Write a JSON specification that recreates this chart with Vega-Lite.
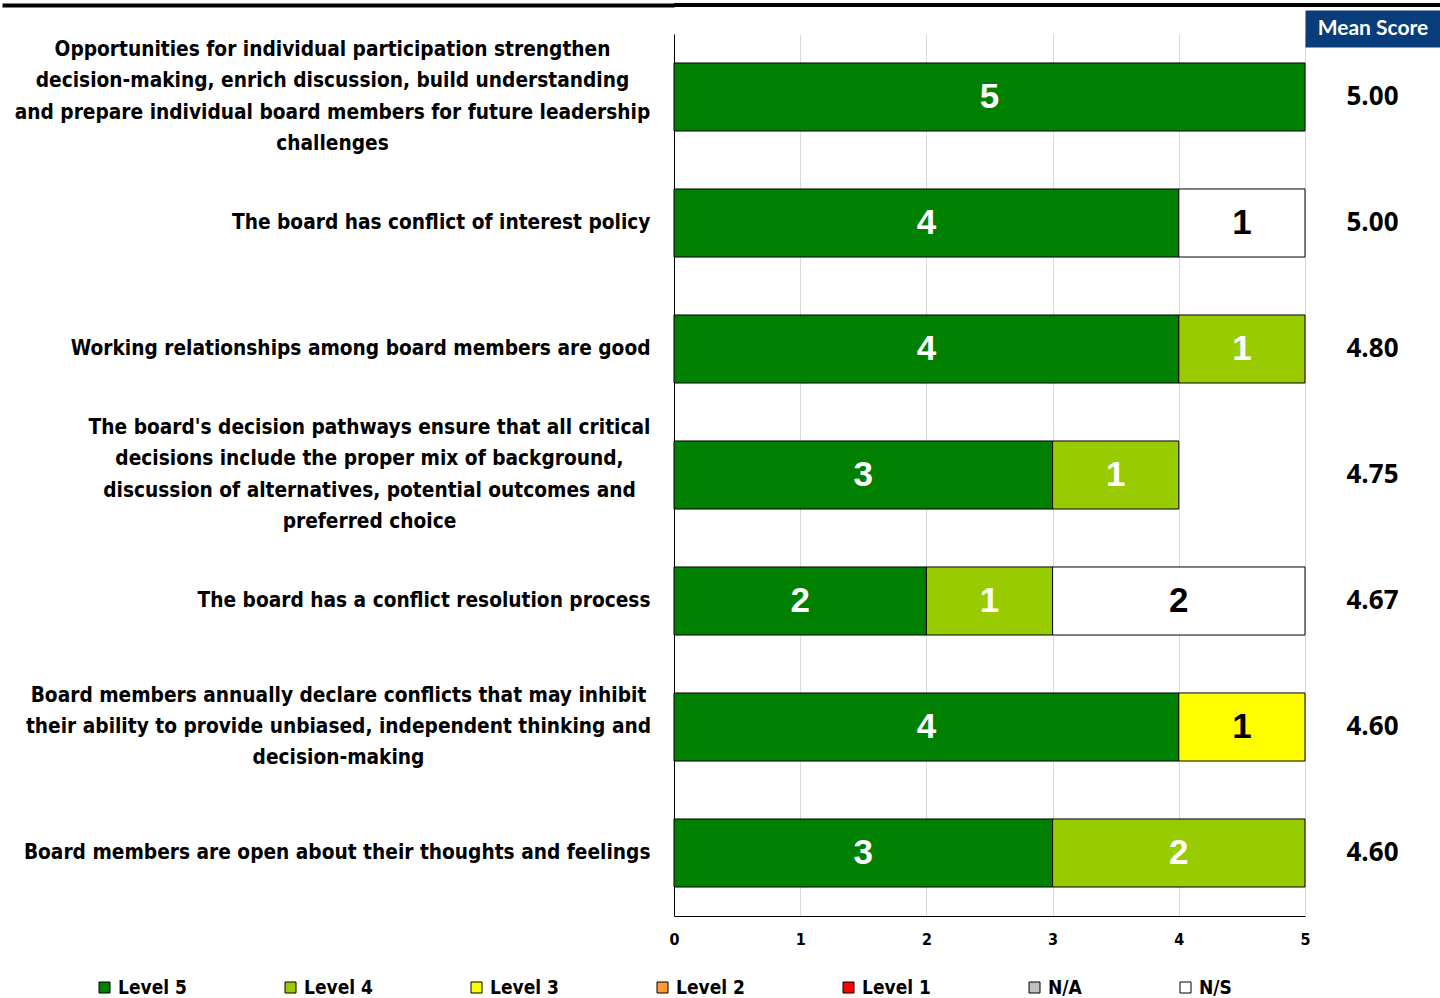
{
  "$schema": "https://vega.github.io/schema/vega-lite/v6.json",
  "padding": {"left": 0, "top": 3, "right": 0, "bottom": 0},
  "background": "white",
  "config": {"view": {"stroke": null}},
  "datasets": {
    "counts": [
      {"question": "Opportunities for individual participation strengthen|decision-making, enrich discussion, build understanding|and prepare individual board members for future leadership|challenges", "level": "Level 5", "rank": 1, "count": 5},
      {"question": "The board has conflict of interest policy", "level": "Level 5", "rank": 1, "count": 4},
      {"question": "The board has conflict of interest policy", "level": "N/S", "rank": 7, "count": 1},
      {"question": "Working relationships among board members are good", "level": "Level 5", "rank": 1, "count": 4},
      {"question": "Working relationships among board members are good", "level": "Level 4", "rank": 2, "count": 1},
      {"question": "The board's decision pathways ensure that all critical|decisions include the proper mix of background,|discussion of alternatives, potential outcomes and|preferred choice", "level": "Level 5", "rank": 1, "count": 3},
      {"question": "The board's decision pathways ensure that all critical|decisions include the proper mix of background,|discussion of alternatives, potential outcomes and|preferred choice", "level": "Level 4", "rank": 2, "count": 1},
      {"question": "The board has a conflict resolution process", "level": "Level 5", "rank": 1, "count": 2},
      {"question": "The board has a conflict resolution process", "level": "Level 4", "rank": 2, "count": 1},
      {"question": "The board has a conflict resolution process", "level": "N/S", "rank": 7, "count": 2},
      {"question": "Board members annually declare conflicts that may inhibit|their ability to provide unbiased, independent thinking and|decision-making", "level": "Level 5", "rank": 1, "count": 4},
      {"question": "Board members annually declare conflicts that may inhibit|their ability to provide unbiased, independent thinking and|decision-making", "level": "Level 3", "rank": 3, "count": 1},
      {"question": "Board members are open about their thoughts and feelings", "level": "Level 5", "rank": 1, "count": 3},
      {"question": "Board members are open about their thoughts and feelings", "level": "Level 4", "rank": 2, "count": 2}
    ],
    "means": [
      {"question": "Opportunities for individual participation strengthen|decision-making, enrich discussion, build understanding|and prepare individual board members for future leadership|challenges", "mean": 5.0},
      {"question": "The board has conflict of interest policy", "mean": 5.0},
      {"question": "Working relationships among board members are good", "mean": 4.8},
      {"question": "The board's decision pathways ensure that all critical|decisions include the proper mix of background,|discussion of alternatives, potential outcomes and|preferred choice", "mean": 4.75},
      {"question": "The board has a conflict resolution process", "mean": 4.67},
      {"question": "Board members annually declare conflicts that may inhibit|their ability to provide unbiased, independent thinking and|decision-making", "mean": 4.6},
      {"question": "Board members are open about their thoughts and feelings", "mean": 4.6}
    ]
  },
  "spacing": 10,
  "vconcat": [
    {
      "width": 766,
      "height": 4,
      "data": {"values": [{"v": 0}]},
      "mark": {"type": "rule", "color": "black", "strokeWidth": 4},
      "encoding": {
        "y": {
          "field": "v",
          "type": "quantitative",
          "scale": {"domain": [-1, 1]},
          "axis": {"values": [0], "labels": false, "domain": false, "grid": false, "title": null, "ticks": true, "tickSize": 672, "tickWidth": 4, "tickColor": "black"}
        }
      }
    },
    {
      "bounds": "flush",
      "spacing": 0,
      "hconcat": [
        {
          "width": 631,
          "height": 882,
          "data": {"name": "counts"},
          "transform": [
            {"stack": "count", "groupby": ["question"], "sort": [{"field": "rank"}], "as": ["x0", "x1"]},
            {"calculate": "(datum.x0 + datum.x1) / 2", "as": "xm"}
          ],
          "encoding": {
            "y": {
              "field": "question",
              "type": "nominal",
              "scale": {
                "domain": [
                  "Opportunities for individual participation strengthen|decision-making, enrich discussion, build understanding|and prepare individual board members for future leadership|challenges",
                  "The board has conflict of interest policy",
                  "Working relationships among board members are good",
                  "The board's decision pathways ensure that all critical|decisions include the proper mix of background,|discussion of alternatives, potential outcomes and|preferred choice",
                  "The board has a conflict resolution process",
                  "Board members annually declare conflicts that may inhibit|their ability to provide unbiased, independent thinking and|decision-making",
                  "Board members are open about their thoughts and feelings"
                ],
                "paddingInner": 0.46,
                "paddingOuter": 0.23
              },
              "axis": {
                "title": null,
                "domainColor": "black",
                "domainWidth": 1,
                "ticks": false,
                "tickSize": 0,
                "grid": false,
                "labelFont": "DejaVu Sans Condensed, Roboto, sans-serif",
                "labelFontWeight": "bold",
                "labelFontSize": 20.7,
                "labelColor": "black",
                "labelLineHeight": 31.3,
                "labelLimit": 0,
                "labelExpr": "split(datum.value, '|')",
                "labelAlign": {"condition": {"test": "indexof(datum.value, '|') >= 0", "value": "center"}, "value": "right"},
                "labelOffset": {
                  "condition": [
                    {"test": "indexof(datum.value, 'Opportunities') >= 0", "value": -47},
                    {"test": "indexof(datum.value, 'pathways') >= 0", "value": -47},
                    {"test": "indexof(datum.value, 'annually') >= 0", "value": -31.3}
                  ],
                  "value": 0
                },
                "labelPadding": {
                  "condition": [
                    {"test": "indexof(datum.value, 'Opportunities') >= 0", "value": 342},
                    {"test": "indexof(datum.value, 'pathways') >= 0", "value": 305},
                    {"test": "indexof(datum.value, 'annually') >= 0", "value": 336}
                  ],
                  "value": 24
                }
              }
            }
          },
          "layer": [
            {
              "mark": {"type": "bar", "stroke": "black", "strokeWidth": 1},
              "encoding": {
                "x": {
                  "field": "x0",
                  "type": "quantitative",
                  "scale": {"domain": [0, 5], "nice": false},
                  "axis": {
                    "values": [0, 1, 2, 3, 4, 5],
                    "format": "d",
                    "title": null,
                    "domainColor": "black",
                    "ticks": false,
                    "tickSize": 0,
                    "grid": true,
                    "gridColor": "#D9D9D9",
                    "labelFont": "DejaVu Sans Condensed, Roboto, sans-serif",
                    "labelFontWeight": "bold",
                    "labelFontSize": 16,
                    "labelColor": "black",
                    "labelPadding": 15,
                    "labelFlush": false
                  }
                },
                "x2": {"field": "x1"},
                "color": {
                  "field": "level",
                  "type": "nominal",
                  "scale": {
                    "domain": ["Level 5", "Level 4", "Level 3", "Level 2", "Level 1", "N/A", "N/S"],
                    "range": ["#008000", "#99CC00", "#FFFF00", "#FF9933", "#FF0000", "#C0C0C0", "#FFFFFF"]
                  },
                  "legend": {
                    "orient": "none",
                    "legendX": -579,
                    "legendY": 975,
                    "direction": "horizontal",
                    "gridAlign": "none",
                    "title": null,
                    "padding": 0,
                    "symbolType": "square",
                    "symbolSize": 121,
                    "symbolStrokeColor": "black",
                    "symbolStrokeWidth": 1,
                    "labelFont": "DejaVu Sans Condensed, Roboto, sans-serif",
                    "labelFontWeight": "bold",
                    "labelFontSize": 19,
                    "labelColor": "black",
                    "labelOffset": 4,
                    "columnPadding": 94
                  }
                }
              }
            },
            {
              "mark": {"type": "text", "font": "Liberation Sans", "fontWeight": "bold", "fontSize": 35, "baseline": "middle", "align": "center"},
              "encoding": {
                "x": {"field": "xm", "type": "quantitative"},
                "text": {"field": "count", "type": "quantitative"},
                "color": {"condition": {"test": "datum.level == 'N/S' || datum.level == 'Level 3'", "value": "black"}, "value": "white"}
              }
            }
          ]
        },
        {
          "width": 135,
          "height": 882,
          "data": {"name": "means"},
          "mark": {"type": "text", "font": "Open Sans", "fontWeight": "bold", "fontSize": 26, "color": "black", "baseline": "middle", "align": "center"},
          "encoding": {
            "x": {
              "datum": "Mean Score",
              "type": "nominal",
              "axis": {
                "orient": "top",
                "offset": 5.5,
                "domain": true,
                "domainWidth": 37,
                "domainColor": "#063D7A",
                "domainCap": "butt",
                "grid": false,
                "ticks": false,
                "tickSize": 0,
                "labels": false,
                "title": "Mean Score",
                "titleFont": "Lato",
                "titleFontWeight": "bold",
                "titleFontSize": 21,
                "titleColor": "white",
                "titlePadding": 0,
                "titleY": 0,
                "titleBaseline": "middle",
                "titleAlign": "center"
              }
            },
            "y": {
              "field": "question",
              "type": "nominal",
              "scale": {
                "domain": [
                  "Opportunities for individual participation strengthen|decision-making, enrich discussion, build understanding|and prepare individual board members for future leadership|challenges",
                  "The board has conflict of interest policy",
                  "Working relationships among board members are good",
                  "The board's decision pathways ensure that all critical|decisions include the proper mix of background,|discussion of alternatives, potential outcomes and|preferred choice",
                  "The board has a conflict resolution process",
                  "Board members annually declare conflicts that may inhibit|their ability to provide unbiased, independent thinking and|decision-making",
                  "Board members are open about their thoughts and feelings"
                ],
                "paddingInner": 0.46,
                "paddingOuter": 0.23
              },
              "axis": null
            },
            "text": {"field": "mean", "type": "quantitative", "format": ".2f"}
          }
        }
      ]
    }
  ]
}
